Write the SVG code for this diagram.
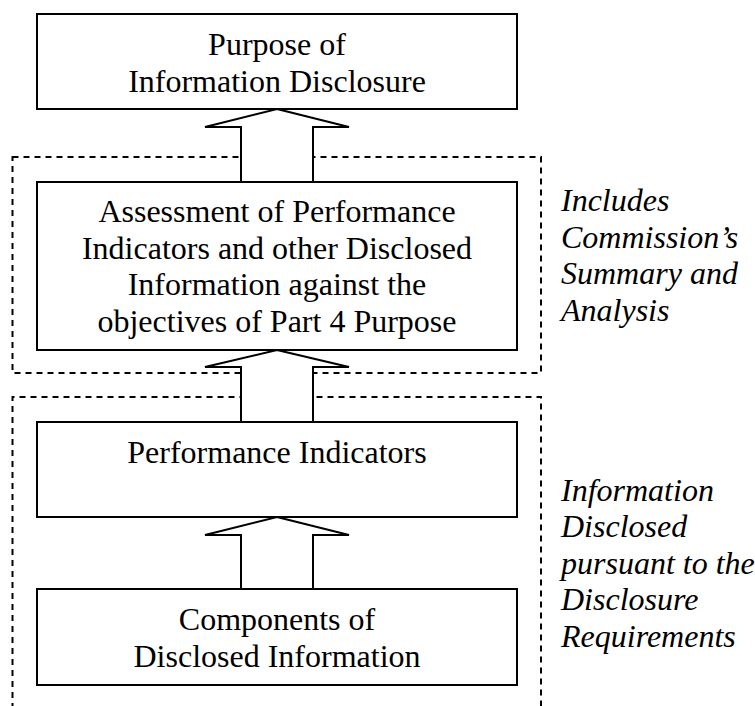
<svg xmlns="http://www.w3.org/2000/svg" width="755" height="706" viewBox="0 0 755 706">
  <style>
    .box { fill: #ffffff; stroke: #000000; stroke-width: 2; }
    .group { fill: none; stroke: #000000; stroke-width: 2; stroke-dasharray: 6 5; }
    .arrow { fill: #ffffff; stroke: #000000; stroke-width: 2; stroke-linejoin: miter; }
    .label { font-family: 'Liberation Serif', Tinos, 'Times New Roman', Times, serif; font-size: 32px; fill: #000000; text-anchor: middle; }
    .note { font-family: 'Liberation Serif', Tinos, 'Times New Roman', Times, serif; font-size: 32px; font-style: italic; fill: #000000; }
  </style>

  <rect width="755" height="706" fill="#ffffff"/>

  <!-- dashed groupings -->
  <g id="groups">
    <rect class="group" x="12.5" y="157" width="528.5" height="216"/>
    <path class="group" d="M12.5,720 V397 H541 V720"/>
  </g>

  <!-- nodes -->
  <g id="purpose">
    <rect class="box" x="37" y="14" width="480" height="95"/>
    <text class="label" x="277" y="55">Purpose of</text>
    <text class="label" x="277" y="92">Information Disclosure</text>
  </g>

  <g id="assessment">
    <rect class="box" x="37" y="182" width="480" height="168"/>
    <text class="label" x="277" y="222">Assessment of Performance</text>
    <text class="label" x="277" y="259">Indicators and other Disclosed</text>
    <text class="label" x="277" y="295">Information against the</text>
    <text class="label" x="277" y="332">objectives of Part 4 Purpose</text>
  </g>

  <g id="indicators">
    <rect class="box" x="37" y="422" width="480" height="95"/>
    <text class="label" x="277" y="463">Performance Indicators</text>
  </g>

  <g id="components">
    <rect class="box" x="37" y="589" width="480" height="96"/>
    <text class="label" x="277" y="630">Components of</text>
    <text class="label" x="277" y="667">Disclosed Information</text>
  </g>

  <!-- block arrows between nodes -->
  <g id="connectors">
    <polygon class="arrow" points="277,109 349,127 313,127 313,182 241,182 241,127 205,127"/>
    <polygon class="arrow" points="277,350 349,367 313,367 313,422 241,422 241,367 205,367"/>
    <polygon class="arrow" points="277,517 349,535 313,535 313,589 241,589 241,535 205,535"/>
  </g>

  <!-- side notes -->
  <g id="note-summary">
    <text class="note" x="561" y="211">Includes</text>
    <text class="note" x="561" y="248">Commission’s</text>
    <text class="note" x="561" y="284">Summary and</text>
    <text class="note" x="561" y="321">Analysis</text>
  </g>

  <g id="note-disclosed">
    <text class="note" x="561" y="501">Information</text>
    <text class="note" x="561" y="537">Disclosed</text>
    <text class="note" x="561" y="574">pursuant to the</text>
    <text class="note" x="561" y="610">Disclosure</text>
    <text class="note" x="561" y="647">Requirements</text>
  </g>
</svg>
